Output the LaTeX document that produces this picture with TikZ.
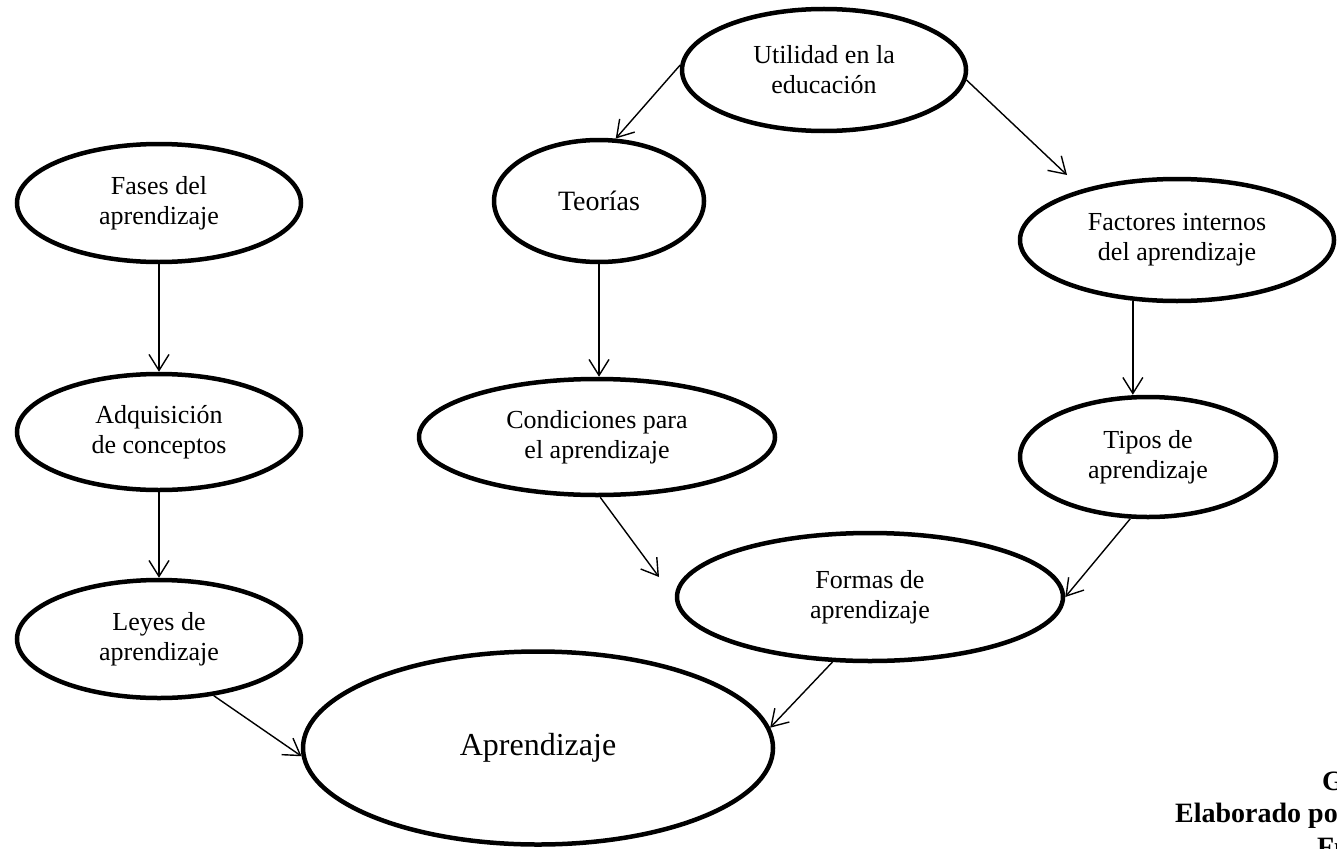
\documentclass[tikz,border=0pt]{standalone}
\usepackage{fontspec}
\setmainfont{Liberation Serif}
\usetikzlibrary{shapes.geometric,arrows.meta}
\tikzset{
  oval/.style={ellipse, draw, line width=4.5pt, inner sep=0pt, align=center,
    font=\fontsize{26}{30}\selectfont},
  conn/.style={line width=1.4pt, -{Straight Barb[length=16pt,width=20pt,line width=1.4pt]}},
  note/.style={anchor=base west, inner sep=0pt, font=\fontsize{28}{32}\selectfont\bfseries}
}
\begin{document}
\begin{tikzpicture}[x=1pt,y=-1pt]
\useasboundingbox (0,0) rectangle (1337,848);
\node[oval, minimum width=284pt, minimum height=122pt] (util) at (824,70) {Utilidad en la\\educación};
\node[oval, minimum width=210pt, minimum height=122pt, font=\fontsize{28}{32}\selectfont] (teo) at (599,201) {Teorías};
\node[oval, minimum width=314pt, minimum height=122pt] (fact) at (1177,240) {Factores internos\\del aprendizaje};
\node[oval, minimum width=256pt, minimum height=120pt] (tipos) at (1148,457) {Tipos de\\aprendizaje};
\node[oval, minimum width=284pt, minimum height=118pt] (fases) at (159,203) {Fases del\\aprendizaje};
\node[oval, minimum width=284pt, minimum height=116pt] (adq) at (159,432) {Adquisición\\de conceptos};
\node[oval, minimum width=284pt, minimum height=118pt] (leyes) at (159,639) {Leyes de\\aprendizaje};
\node[oval, minimum width=356pt, minimum height=116pt] (cond) at (597,437) {Condiciones para\\el aprendizaje};
\node[oval, minimum width=386pt, minimum height=128pt] (formas) at (870,597) {Formas de\\aprendizaje};
\node[oval, minimum width=470pt, minimum height=193pt, font=\fontsize{32}{36}\selectfont] (apr) at (538,748) {Aprendizaje};

\coordinate (ufend) at (1067,175);
\coordinate (cfend) at (659,577);

\draw[conn] (util.178) -- (teo.75);
\draw[conn] (util.-4) -- (ufend);
\draw[conn] (teo.south) -- (teo.south |- cond.north);
\draw[conn] (fact.234) -- (fact.234 |- tipos.north);
\draw[conn] (fases.south) -- (adq.north);
\draw[conn] (adq.south) -- (leyes.north);
\draw[conn] (cond.-87) -- (cfend);
\draw[conn] (tipos.-106) -- (formas.east);
\draw[conn] (formas.-120) -- (apr.5);
\draw[conn] (leyes.-46) -- (apr.182);

\node[note] (g) at (1322,790) {G};
\node[note] (elab) at (1175,822) {Elaborado po};
\node[note] (fu) at (1317,856) {Fu};
\end{tikzpicture}
\end{document}
